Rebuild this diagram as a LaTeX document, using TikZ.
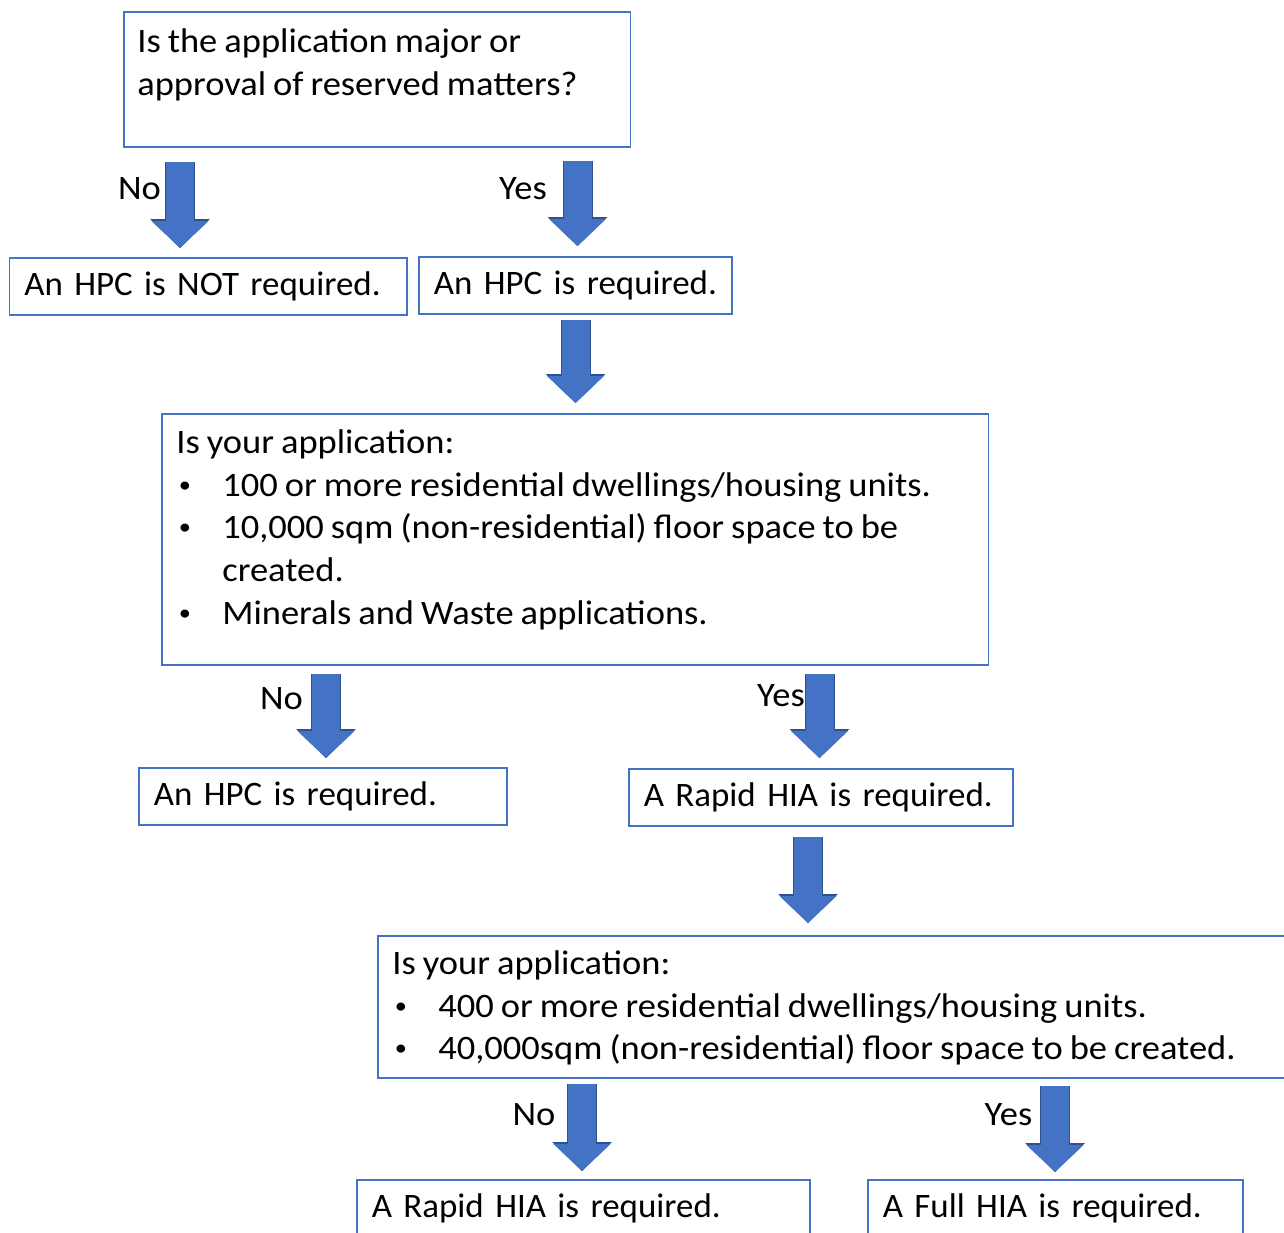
\documentclass[tikz,border=0pt]{standalone}
\usepackage{fontspec}
\setmainfont{Carlito}[FakeStretch=1.065, WordSpace=0.85]
\newfontfamily\answerfont{Carlito}[FakeStretch=1.02, WordSpace=0.85]
\usetikzlibrary{arrows.meta}

\definecolor{boxblue}{HTML}{4472C4}
\definecolor{arrowedge}{HTML}{2F528F}

% small bullet with hanging indent
\newcommand{\qbullet}{\makebox[0.92cm][l]{\hspace{0.05cm}\raisebox{0.08cm}{\fontsize{13}{13}\selectfont\textbullet}}}

\tikzset{
  every node/.style={font=\fontsize{19.5}{24.4}\selectfont},
  box/.style={draw=boxblue, line width=0.9pt, anchor=north west, inner sep=0pt},
  qtext/.style={anchor=north west, align=left, inner sep=0pt},
  answer/.style={draw=boxblue, line width=0.9pt, anchor=north west, align=left,
    minimum height=1.14cm, inner xsep=0.3cm,
    font=\answerfont\fontsize{19.5}{24.4}\selectfont,
    execute at begin node=\hbox\bgroup, execute at end node=\egroup},
  lbl/.style={inner sep=0pt},
  blockarrow/.style={draw=boxblue, line width=0.56cm,
    -{Triangle[width=1.14cm, length=0.54cm, line width=0pt]},
    preaction={draw=arrowedge, line width=0.6cm,
      -{Triangle[width=1.2cm, length=0.58cm, line width=0pt]}}}
}

\begin{document}
\begin{tikzpicture}[x=0.02cm, y=-0.02cm]
\useasboundingbox (0,0) rectangle (1284,1233);

% first question
\node[box, minimum width=10.14cm, minimum height=2.7cm] (qmajor) at (123,11) {};
\node[qtext] (qmajortext) at (137,28) {Is the application major or\\approval of reserved matters?};

\node[answer, text width=7.36cm] (nohpc) at (8.5,257) {An HPC is NOT required.};
\node[answer, text width=5.66cm] (hpcone) at (418,256) {An HPC is required.};

% second question
\node[box, minimum width=16.54cm, minimum height=5.02cm] (qsize) at (161,413) {};
\node[qtext] (qsizetext) at (176,429) {Is your application:\\
\qbullet 100 or more residential dwellings/housing units.\\
\qbullet 10,000 sqm (non-residential) floor space to be\\
\hspace*{0.92cm}created.\\
\qbullet Minerals and Waste applications.};

\node[answer, text width=6.76cm] (hpctwo) at (138,767) {An HPC is required.};
\node[answer, text width=7.08cm] (rapidone) at (628,768) {A Rapid HIA is required.};

% third question
\node[box, minimum width=18.54cm, minimum height=2.84cm] (qlarge) at (377,935) {};
\node[qtext] (qlargetext) at (392,950) {Is your application:\\
\qbullet 400 or more residential dwellings/housing units.\\
\qbullet 40,000sqm (non-residential) floor space to be created.};

\node[answer, text width=8.46cm] (rapidtwo) at (356,1179) {A Rapid HIA is required.};
\node[answer, text width=6.9cm] (fullhia) at (867,1179) {A Full HIA is required.};

% arrow ends
\coordinate (noones) at (180,162);   \coordinate (nonee) at (180,248);
\coordinate (yesones) at (577.5,161); \coordinate (yesonee) at (577.5,246);
\coordinate (hpcs) at (575.5,320);   \coordinate (hpce) at (575.5,403);
\coordinate (notwos) at (326,674);   \coordinate (notwoe) at (326,758);
\coordinate (yestwos) at (819.5,674); \coordinate (yestwoe) at (819.5,758);
\coordinate (rapids) at (808,837);   \coordinate (rapide) at (808,923);
\coordinate (nothrees) at (582,1084); \coordinate (nothreee) at (582,1171);
\coordinate (yesthrees) at (1055,1086); \coordinate (yesthreee) at (1055,1172);

\draw[blockarrow] (noones) -- (nonee);
\draw[blockarrow] (yesones) -- (yesonee);
\draw[blockarrow] (hpcs) -- (hpce);
\draw[blockarrow] (notwos) -- (notwoe);
\draw[blockarrow] (yestwos) -- (yestwoe);
\draw[blockarrow] (rapids) -- (rapide);
\draw[blockarrow] (nothrees) -- (nothreee);
\draw[blockarrow] (yesthrees) -- (yesthreee);

% labels
\node[lbl] (noone) at (139.5,188.5) {No};
\node[lbl] (yesone) at (523,188.5) {Yes};
\node[lbl] (notwo) at (281.5,698.5) {No};
\node[lbl] (yestwo) at (781,696) {Yes};
\node[lbl] (nothree) at (534,1115) {No};
\node[lbl] (yesthree) at (1008.5,1115) {Yes};
\end{tikzpicture}
\end{document}
